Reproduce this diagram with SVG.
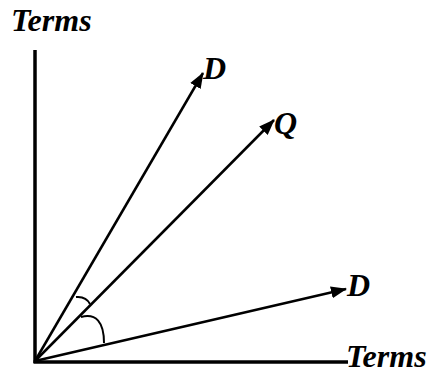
<svg xmlns="http://www.w3.org/2000/svg" width="430" height="371" viewBox="0 0 430 371">
<style>
.lbl{font-family:"Liberation Serif","Times New Roman",serif;font-weight:bold;font-style:italic;font-size:32px;fill:#000}
.axis{stroke:#000;stroke-width:3.5;fill:none}
.vec{stroke:#000;stroke-width:2.5;fill:none}
.arc{stroke:#000;stroke-width:2;fill:none}
</style>
<defs>
<marker id="ah" markerWidth="16" markerHeight="12" refX="15" refY="6" orient="auto" markerUnits="userSpaceOnUse">
<path d="M0,0 L16,6 L0,12 Z" fill="#000"/>
</marker>
</defs>
<g id="axes">
<line id="y-axis" class="axis" x1="35" y1="50" x2="35" y2="363"/>
<line id="x-axis" class="axis" x1="33.5" y1="362" x2="348" y2="362"/>
</g>
<g id="connectors">
<line class="vec" x1="35" y1="361" x2="203" y2="73" marker-end="url(#ah)"/>
<line class="vec" x1="35" y1="361" x2="274" y2="120" marker-end="url(#ah)"/>
<line class="vec" x1="35" y1="361" x2="346" y2="289" marker-end="url(#ah)"/>
<path class="arc" d="M76,297 Q86,296 90,304"/>
<path class="arc" d="M81,317 C96,313 104,322 104,343"/>
</g>
<g id="label-terms-y"><text class="lbl" x="11" y="31">Terms</text></g>
<g id="label-terms-x"><text class="lbl" x="346" y="367">Terms</text></g>
<g id="label-d1"><text class="lbl" x="203" y="79">D</text></g>
<g id="label-q"><text class="lbl" x="274" y="134">Q</text></g>
<g id="label-d2"><text class="lbl" x="347" y="296">D</text></g>
</svg>
